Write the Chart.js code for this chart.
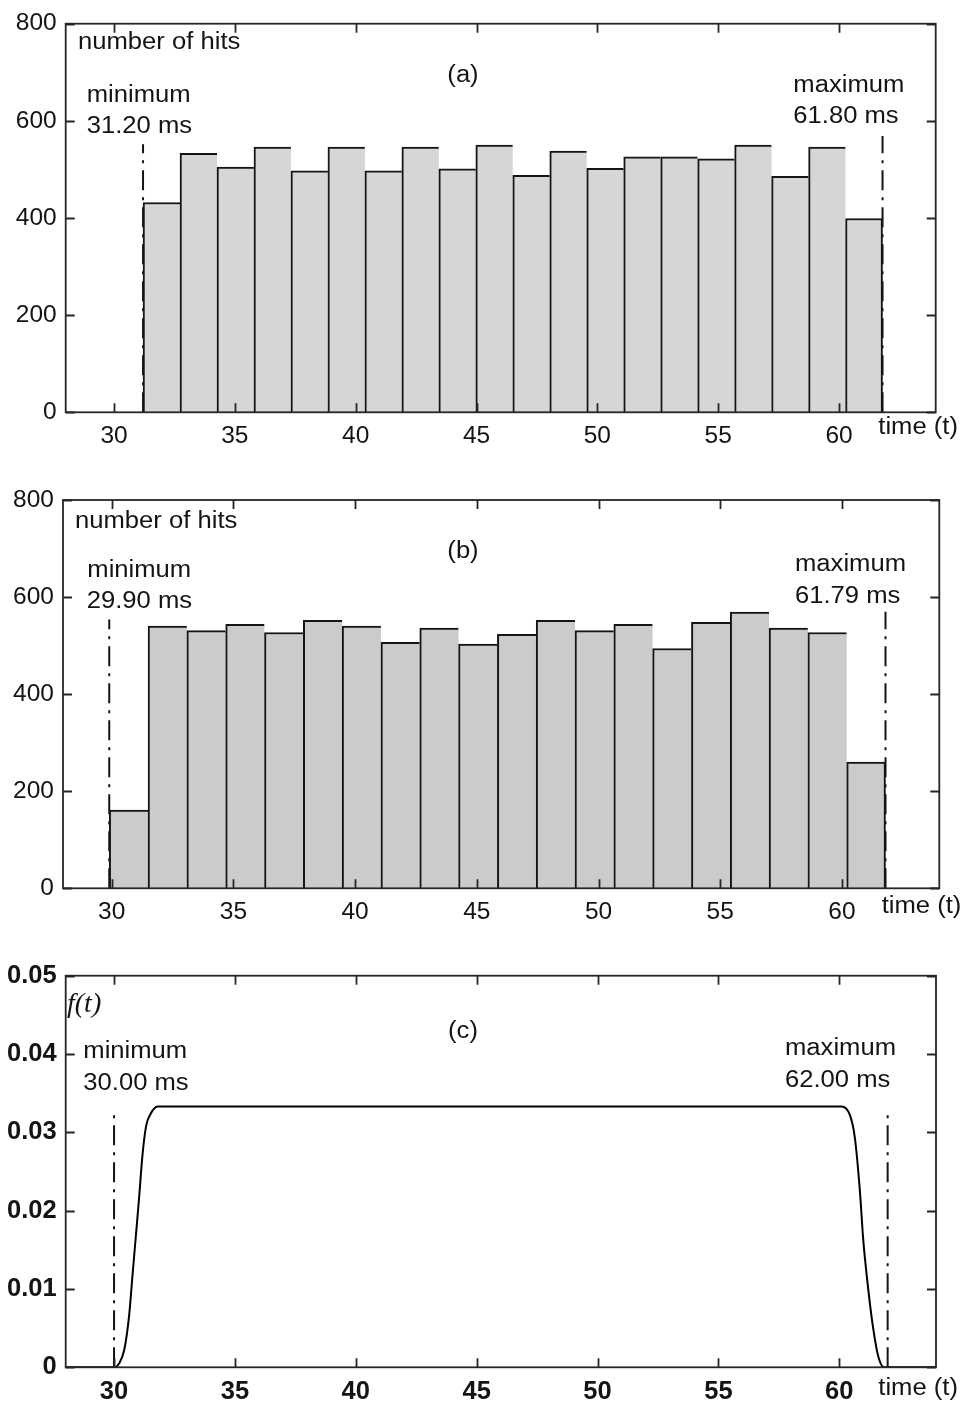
<!DOCTYPE html>
<html>
<head>
<meta charset="utf-8">
<script src="https://cdn.jsdelivr.net/npm/chart.js@4.4.0/dist/chart.umd.min.js"></script>
<style>
  html, body { margin: 0; padding: 0; background: #fff; }
  #wrap { position: relative; width: 967px; height: 1405px; }
  canvas { position: absolute; left: 0; display: block; }
</style>
</head>
<body>
<div id="wrap">
  <canvas id="ca" width="967" height="460" style="top:0px"></canvas>
  <canvas id="cb" width="967" height="480" style="top:460px"></canvas>
  <canvas id="cc" width="967" height="465" style="top:940px"></canvas>
</div>
<script>
// ---- data ---------------------------------------------------------------
const timeTicks = [30, 35, 40, 45, 50, 55, 60];
const hitTicks = [0, 200, 400, 600, 800];
const densityTicks = [0, 0.01, 0.02, 0.03, 0.04, 0.05];

// (a) histogram: 20 bins spanning the recorded minimum .. maximum
const rangeA = [31.20, 61.80];
const hitsA = [432, 533, 505, 546, 497, 546, 497, 546, 501, 550,
               488, 538, 502, 526, 526, 522, 550, 486, 546, 399];
const markerTopA = [552, 569];

// (b) histogram: 20 bins spanning the recorded minimum .. maximum
const rangeB = [29.90, 61.79];
const hitsB = [161, 540, 531, 544, 527, 552, 540, 507, 536, 503,
               523, 552, 531, 544, 494, 548, 569, 536, 527, 260];
const markerTopB = [554, 570];

// (c) density curve f(t)
const rangeC = [30.00, 62.00];
const curveT = [28, 30.00, 30.21, 30.42, 30.62, 30.76, 30.90, 31.04, 31.17, 31.32, 31.52, 31.80,
                60.09, 60.44, 60.64, 60.85, 60.99, 61.20, 61.41, 61.61, 61.85, 64];
const curveF = [0, 0, 0.0005, 0.0022, 0.0065, 0.0116, 0.0167, 0.0218, 0.0269, 0.0307, 0.0324, 0.0333,
                0.0333, 0.0322, 0.0294, 0.0226, 0.0163, 0.0099, 0.0048, 0.0014, 0, 0];
const markerTopC = [0.0329, 0.0326];

// ---- helpers ------------------------------------------------------------
const FONT = "'Liberation Sans', Arial, Helvetica, sans-serif";
const INK = '#141414';
Chart.defaults.font.family = FONT;
Chart.defaults.color = INK;

function binCenters(range, n) {
  const w = (range[1] - range[0]) / n;
  return Array.from({ length: n }, (_, i) => range[0] + (i + 0.5) * w);
}

function histogramDataset(range, hits, fill) {
  const centers = binCenters(range, hits.length);
  const last = hits.length - 1;
  return {
    type: 'bar',
    order: 2,
    data: hits.map((h, i) => ({ x: centers[i], y: h })),
    backgroundColor: fill,
    borderColor: INK,
    borderSkipped: false,
    borderWidth: c => ({ top: 2, left: 2, right: c.dataIndex === last ? 2 : 0, bottom: 0 }),
    barPercentage: 1.0,
    categoryPercentage: 1.0
  };
}

function markerDataset(t, top) {
  return {
    type: 'line',
    order: 1,
    data: [{ x: t, y: 0 }, { x: t, y: top }],
    borderColor: INK,
    borderWidth: 2,
    borderDash: [20, 7, 3, 7],
    pointRadius: 0,
    fill: false,
    clip: false
  };
}

// frame, inward tick marks and the text annotations of each panel
const framePlugin = {
  id: 'frame',
  afterDatasetsDraw(chart, args, opts) {
    const { ctx, chartArea: a, scales } = chart;
    const x = scales.x, y = scales.y;
    ctx.save();
    ctx.strokeStyle = '#262626';
    ctx.lineWidth = 1.8;
    ctx.strokeRect(a.left, a.top, a.right - a.left, a.bottom - a.top);
    const L = 9;
    ctx.beginPath();
    x.ticks.forEach(t => {
      const px = Math.round(x.getPixelForValue(t.value)) + 0.5;
      ctx.moveTo(px, a.bottom); ctx.lineTo(px, a.bottom - L);
      ctx.moveTo(px, a.top); ctx.lineTo(px, a.top + L);
    });
    y.ticks.forEach(t => {
      const py = Math.round(y.getPixelForValue(t.value)) + 0.5;
      ctx.moveTo(a.left, py); ctx.lineTo(a.left + L, py);
      ctx.moveTo(a.right, py); ctx.lineTo(a.right - L, py);
    });
    ctx.stroke();

    ctx.fillStyle = INK;
    ctx.textBaseline = 'alphabetic';
    (opts.texts || []).forEach(t => {
      ctx.save();
      ctx.font = t.font || ('23.5px ' + FONT);
      ctx.textAlign = t.align || 'left';
      ctx.translate(t.x, t.y);
      ctx.scale(t.sx || 1.09, 1);
      ctx.fillText(t.text, 0, 0);
      ctx.restore();
    });
    ctx.restore();
  }
};

function makeChart(id, geom, datasets, yMax, yTickVals, yFmt, tickFont, texts) {
  const el = document.getElementById(id);
  const H = el.height, W = el.width;
  return new Chart(el, {
    type: 'bar',
    data: { datasets },
    plugins: [framePlugin],
    options: {
      responsive: false,
      animation: false,
      events: [],
      layout: { padding: { top: geom.top, right: W - geom.right, left: 0, bottom: 0 } },
      plugins: {
        legend: { display: false },
        tooltip: { enabled: false },
        frame: { texts }
      },
      scales: {
        x: {
          type: 'linear',
          min: 28, max: 64,
          offset: false,
          afterBuildTicks: s => { s.ticks = timeTicks.map(v => ({ value: v })); },
          afterFit: s => { s.height = H - geom.bottom; },
          grid: { display: false, drawTicks: false },
          border: { display: false },
          ticks: { font: tickFont, color: INK, padding: 9, maxRotation: 0, autoSkip: false,
                   callback: v => String(v) }
        },
        y: {
          type: 'linear',
          min: 0, max: yMax,
          afterBuildTicks: s => { s.ticks = yTickVals.map(v => ({ value: v })); },
          afterFit: s => { s.width = geom.left; },
          grid: { display: false, drawTicks: false },
          border: { display: false },
          ticks: { font: tickFont, color: INK, padding: 9, autoSkip: false, callback: yFmt }
        }
      }
    }
  });
}

const plainTicks = { size: 24.5, family: FONT };
const boldTicks = { size: 25.5, family: FONT, weight: 'bold' };
const hitFmt = v => String(v);
const densFmt = v => (v === 0 ? '0' : v.toFixed(2));

// (a)
makeChart('ca', { left: 65.7, top: 20, right: 935.7, bottom: 412.3 },
  [histogramDataset(rangeA, hitsA, '#d6d6d6'),
   markerDataset(rangeA[0], markerTopA[0]),
   markerDataset(rangeA[1], markerTopA[1])],
  800, hitTicks, hitFmt, plainTicks,
  [
    { text: 'number of hits', x: 78, y: 48.5 },
    { text: '(a)', x: 463, y: 82, align: 'center' },
    { text: 'minimum', x: 86.7, y: 101.5 },
    { text: rangeA[0].toFixed(2) + ' ms', x: 86.7, y: 133 },
    { text: 'maximum', x: 793.3, y: 91.5 },
    { text: rangeA[1].toFixed(2) + ' ms', x: 793.3, y: 123 },
    { text: 'time (t)', x: 878.3, y: 434 }
  ]);

// (b)
makeChart('cb', { left: 63, top: 40, right: 939.3, bottom: 428.3 },
  [histogramDataset(rangeB, hitsB, '#cbcbcb'),
   markerDataset(rangeB[0], markerTopB[0]),
   markerDataset(rangeB[1], markerTopB[1])],
  800, hitTicks, hitFmt, plainTicks,
  [
    { text: 'number of hits', x: 75, y: 68.3 },
    { text: '(b)', x: 463, y: 98, align: 'center' },
    { text: 'minimum', x: 87.3, y: 116.7 },
    { text: rangeB[0].toFixed(2) + ' ms', x: 86.7, y: 148.3 },
    { text: 'maximum', x: 795, y: 110.7 },
    { text: rangeB[1].toFixed(2) + ' ms', x: 795, y: 142.7 },
    { text: 'time (t)', x: 881.7, y: 453.3 }
  ]);

// (c)
makeChart('cc', { left: 65.7, top: 35.7, right: 936, bottom: 427.3 },
  [{
     type: 'line',
     order: 2,
     data: curveT.map((t, i) => ({ x: t, y: curveF[i] })),
     borderColor: '#000',
     borderWidth: 2,
     pointRadius: 0,
     fill: false,
     cubicInterpolationMode: 'monotone'
   },
   markerDataset(rangeC[0], markerTopC[0]),
   markerDataset(rangeC[1], markerTopC[1])],
  0.05, densityTicks, densFmt, boldTicks,
  [
    { text: 'f(t)', x: 67, y: 71.7, font: "italic 28px 'Liberation Serif', 'Times New Roman', serif", sx: 1 },
    { text: '(c)', x: 463, y: 98, align: 'center' },
    { text: 'minimum', x: 83.3, y: 118.3 },
    { text: rangeC[0].toFixed(2) + ' ms', x: 83.3, y: 150 },
    { text: 'maximum', x: 785, y: 115 },
    { text: rangeC[1].toFixed(2) + ' ms', x: 785, y: 146.7 },
    { text: 'time (t)', x: 878.3, y: 455 }
  ]);
</script>
</body>
</html>
